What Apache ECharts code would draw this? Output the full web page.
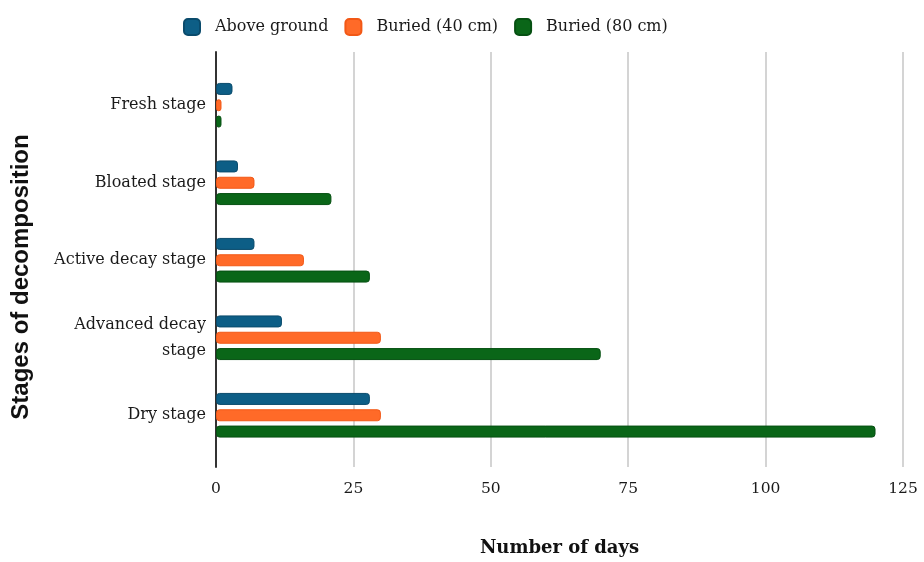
<!DOCTYPE html>
<html>
<head>
<meta charset="utf-8">
<script src="https://cdn.jsdelivr.net/npm/echarts@6/dist/echarts.min.js"></script>
<style>
  html, body { margin: 0; padding: 0; background: #ffffff; }
  #chart { width: 924px; height: 562px; }
</style>
</head>
<body>
<div id="chart"></div>
<script>
// Decomposition stages (top to bottom) and days spent in each stage
const categories = ['Fresh stage', 'Bloated stage', 'Active decay stage', 'Advanced decay\nstage', 'Dry stage'];
const aboveGround = [3, 4, 7, 12, 28];
const buried40 = [1, 7, 16, 30, 30];
const buried80 = [1, 21, 28, 70, 120];
const seriesNames = ['Above ground', 'Buried (40 cm)', 'Buried (80 cm)'];
const xMin = 0, xMax = 125, xStep = 25;

const serif = 'DejaVu Serif';
const colors = [
  { fill: '#0d5e86', edge: '#0a4b6c' },
  { fill: '#ff6a28', edge: '#f25816' },
  { fill: '#0a6618', edge: '#065012' }
];

function barSeries(name, data, c) {
  return {
    name: name,
    type: 'bar',
    xAxisIndex: 0,
    yAxisIndex: 0,
    data: data,
    barWidth: 12,
    barGap: '36%',
    itemStyle: { color: c.fill, borderColor: c.edge, borderWidth: 1, borderRadius: 3 }
  };
}

const chart = echarts.init(document.getElementById('chart'));
chart.setOption({
  animation: false,
  backgroundColor: '#ffffff',
  legend: {
    data: seriesNames,
    left: 178,
    top: 13,
    itemWidth: 16,
    itemHeight: 16,
    itemGap: 16,
    icon: 'roundRect',
    textStyle: { fontFamily: serif, fontSize: 16, color: '#1a1a1a', padding: [2, 0, 0, 10] }
  },
  grid: [
    // band for the bars
    { left: 216, right: 21, top: 66.5, bottom: 108, containLabel: false },
    // frame carrying gridlines, the value scale and the axis line
    { left: 216, right: 21, top: 52, bottom: 94, containLabel: false }
  ],
  xAxis: [
    { gridIndex: 0, type: 'value', min: xMin, max: xMax, interval: xStep, show: false },
    {
      gridIndex: 1, type: 'value', min: xMin, max: xMax, interval: xStep,
      axisLine: { show: false },
      axisTick: { show: false },
      splitLine: { show: true, lineStyle: { color: '#c6c6c6', width: 1.5 } },
      axisLabel: { fontFamily: serif, fontSize: 15.5, color: '#1a1a1a', margin: 14 },
      name: 'Number of days',
      nameLocation: 'middle',
      nameGap: 72,
      nameTextStyle: { fontFamily: serif, fontSize: 18, fontWeight: 'bold', color: '#111' }
    }
  ],
  yAxis: [
    {
      gridIndex: 0, type: 'category', data: categories, inverse: true,
      axisLine: { show: false },
      axisTick: { show: false },
      axisLabel: {
        fontFamily: serif, fontSize: 16, color: '#1a1a1a', margin: 10,
        lineHeight: 26, align: 'right', padding: [5, 0, 0, 0]
      }
    },
    {
      gridIndex: 1, type: 'value', min: 0, max: 1,
      axisLine: { show: true, lineStyle: { color: '#333333', width: 2 } },
      axisTick: { show: false },
      axisLabel: { show: false },
      splitLine: { show: false }
    }
  ],
  graphic: [
    {
      type: 'text',
      x: 21,
      y: 277,
      rotation: Math.PI / 2,
      style: {
        text: 'Stages of decomposition',
        font: 'bold 24px "Liberation Sans", Arial, sans-serif',
        fill: '#111',
        align: 'center',
        verticalAlign: 'middle'
      }
    }
  ],
  series: [
    barSeries(seriesNames[0], aboveGround, colors[0]),
    barSeries(seriesNames[1], buried40, colors[1]),
    barSeries(seriesNames[2], buried80, colors[2])
  ]
});
</script>
</body>
</html>
